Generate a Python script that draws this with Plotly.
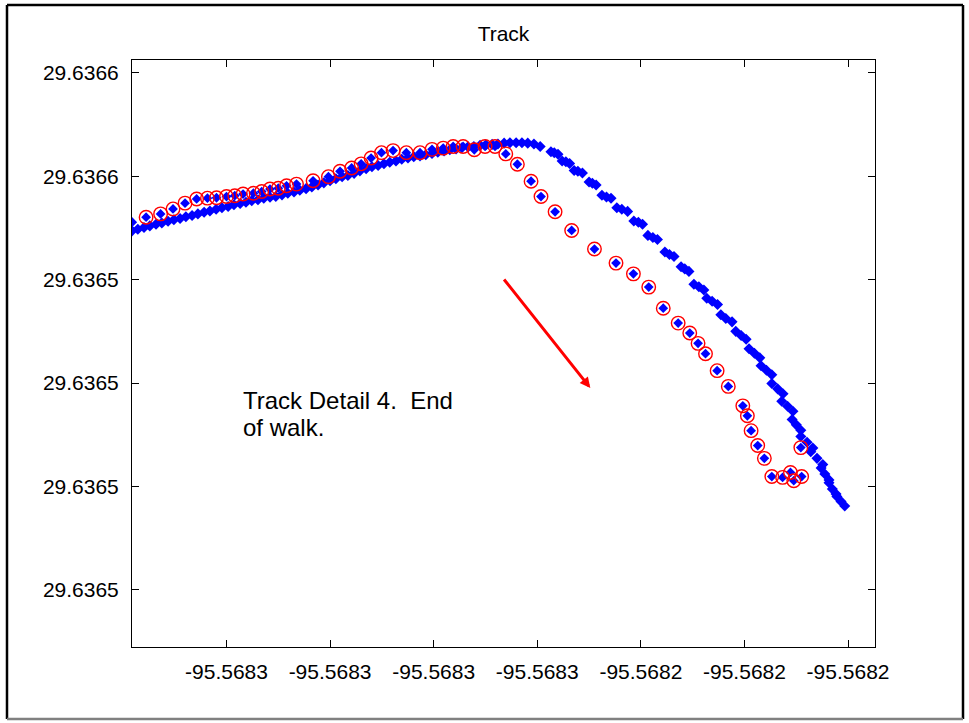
import plotly.graph_objects as go

# ---- GPS fixes (degrees) ----------------------------------------------
# Continuous receiver log
track_lon = [
    -95.5683629, -95.5683628, -95.5683614, -95.5683599, -95.5683585, -95.5683570,
    -95.5683556, -95.5683541, -95.5683527, -95.5683512, -95.5683498, -95.5683483,
    -95.5683469, -95.5683454, -95.5683440, -95.5683425, -95.5683411, -95.5683396,
    -95.5683382, -95.5683367, -95.5683353, -95.5683339, -95.5683324, -95.5683310,
    -95.5683295, -95.5683281, -95.5683266, -95.5683252, -95.5683237, -95.5683223,
    -95.5683208, -95.5683194, -95.5683179, -95.5683165, -95.5683150, -95.5683136,
    -95.5683121, -95.5683107, -95.5683092, -95.5683078, -95.5683063, -95.5683049,
    -95.5683034, -95.5683020, -95.5683006, -95.5682991, -95.5682977, -95.5682962,
    -95.5682948, -95.5682933, -95.5682919, -95.5682904, -95.5682890, -95.5682875,
    -95.5682861, -95.5682846, -95.5682832, -95.5682817, -95.5682803, -95.5682788,
    -95.5682774, -95.5682759, -95.5682745, -95.5682730, -95.5682716, -95.5682701,
    -95.5682687, -95.5682673, -95.5682658, -95.5682643,
    -95.5682617, -95.5682609, -95.5682600, -95.5682590, -95.5682581, -95.5682572,
    -95.5682561, -95.5682552, -95.5682541, -95.5682525, -95.5682517, -95.5682508,
    -95.5682494, -95.5682483, -95.5682472, -95.5682458, -95.5682446, -95.5682432,
    -95.5682417, -95.5682406, -95.5682396, -95.5682383, -95.5682371, -95.5682360,
    -95.5682342, -95.5682331, -95.5682320, -95.5682303, -95.5682294, -95.5682284,
    -95.5682272, -95.5682260, -95.5682248, -95.5682241, -95.5682228, -95.5682215,
    -95.5682207, -95.5682195, -95.5682180, -95.5682171, -95.5682158, -95.5682146,
    -95.5682139, -95.5682126, -95.5682113, -95.5682110, -95.5682097, -95.5682084,
    -95.5682084, -95.5682070, -95.5682057, -95.5682060, -95.5682046, -95.5682033,
    -95.5682035, -95.5682025, -95.5682014, -95.5682014, -95.5681999, -95.5681985,
    -95.5681990, -95.5681975, -95.5681961, -95.5681965, -95.5681956, -95.5681946,
    -95.5681946, -95.5681938, -95.5681929, -95.5681927, -95.5681917, -95.5681908,
]
track_lat = [
    29.6365439, 29.6365418, 29.6365422, 29.6365426, 29.6365430, 29.6365434,
    29.6365437, 29.6365441, 29.6365445, 29.6365448, 29.6365452, 29.6365455,
    29.6365459, 29.6365463, 29.6365466, 29.6365470, 29.6365474, 29.6365477,
    29.6365481, 29.6365484, 29.6365487, 29.6365491, 29.6365493, 29.6365497,
    29.6365499, 29.6365501, 29.6365505, 29.6365509, 29.6365512, 29.6365516,
    29.6365520, 29.6365524, 29.6365529, 29.6365534, 29.6365539, 29.6365544,
    29.6365549, 29.6365552, 29.6365557, 29.6365563, 29.6365568, 29.6365573,
    29.6365576, 29.6365580, 29.6365584, 29.6365587, 29.6365591, 29.6365594,
    29.6365597, 29.6365599, 29.6365602, 29.6365605, 29.6365608, 29.6365611,
    29.6365614, 29.6365616, 29.6365619, 29.6365621, 29.6365622, 29.6365625,
    29.6365626, 29.6365627, 29.6365628, 29.6365630, 29.6365631, 29.6365631,
    29.6365631, 29.6365630, 29.6365628, 29.6365622,
    29.6365609, 29.6365607, 29.6365603, 29.6365587, 29.6365585, 29.6365581,
    29.6365564, 29.6365562, 29.6365558, 29.6365536, 29.6365533, 29.6365529,
    29.6365504, 29.6365500, 29.6365497, 29.6365474, 29.6365470, 29.6365465,
    29.6365442, 29.6365439, 29.6365434, 29.6365407, 29.6365402, 29.6365397,
    29.6365367, 29.6365361, 29.6365356, 29.6365331, 29.6365326, 29.6365320,
    29.6365289, 29.6365283, 29.6365275, 29.6365255, 29.6365248, 29.6365240,
    29.6365215, 29.6365206, 29.6365198, 29.6365175, 29.6365165, 29.6365156,
    29.6365133, 29.6365122, 29.6365111, 29.6365092, 29.6365081, 29.6365070,
    29.6365049, 29.6365036, 29.6365024, 29.6365006, 29.6364994, 29.6364982,
    29.6364962, 29.6364949, 29.6364936, 29.6364921, 29.6364907, 29.6364893,
    29.6364884, 29.6364868, 29.6364853, 29.6364845, 29.6364830, 29.6364816,
    29.6364809, 29.6364794, 29.6364782, 29.6364776, 29.6364764, 29.6364753,
]

# Logged waypoints
waypoint_lon = [
    -95.5683594, -95.5683559, -95.5683529, -95.5683500, -95.5683472, -95.5683446,
    -95.5683424, -95.5683400, -95.5683380, -95.5683360, -95.5683335, -95.5683315,
    -95.5683295, -95.5683275, -95.5683255, -95.5683231, -95.5683191, -95.5683154,
    -95.5683126, -95.5683098, -95.5683075, -95.5683051, -95.5683026, -95.5682998,
    -95.5682966, -95.5682933, -95.5682904, -95.5682877, -95.5682853, -95.5682829,
    -95.5682802, -95.5682776, -95.5682752, -95.5682726, -95.5682698, -95.5682665,
    -95.5682641, -95.5682607, -95.5682567, -95.5682512, -95.5682460, -95.5682418,
    -95.5682381, -95.5682346, -95.5682310, -95.5682282, -95.5682262, -95.5682244,
    -95.5682216, -95.5682189, -95.5682154, -95.5682143, -95.5682134, -95.5682118,
    -95.5682102, -95.5682084, -95.5682058, -95.5682039, -95.5682031, -95.5682012,
    -95.5682014,
]
waypoint_lat = [
    29.6365451, 29.6365459, 29.6365471, 29.6365485, 29.6365495, 29.6365497,
    29.6365498, 29.6365501, 29.6365503, 29.6365507, 29.6365509, 29.6365513,
    29.6365519, 29.6365521, 29.6365527, 29.6365531, 29.6365539, 29.6365549,
    29.6365562, 29.6365570, 29.6365580, 29.6365594, 29.6365607, 29.6365612,
    29.6365607, 29.6365607, 29.6365615, 29.6365618, 29.6365622, 29.6365622,
    29.6365614, 29.6365622, 29.6365622, 29.6365604, 29.6365579, 29.6365538,
    29.6365501, 29.6365464, 29.6365419, 29.6365374, 29.6365340, 29.6365314,
    29.6365282, 29.6365231, 29.6365195, 29.6365171, 29.6365146, 29.6365121,
    29.6365080, 29.6365042, 29.6364995, 29.6364971, 29.6364935, 29.6364899,
    29.6364868, 29.6364824, 29.6364822, 29.6364834, 29.6364814, 29.6364824,
    29.6364894,
]

# Axis ticks and their printed labels
lon_ticks = [-95.56834, -95.568315, -95.56829, -95.568265, -95.56824, -95.568215, -95.56819]
lon_labels = ["-95.5683", "-95.5683", "-95.5683", "-95.5683", "-95.5682", "-95.5682", "-95.5682"]
lat_ticks = [29.63658, 29.636555, 29.63653, 29.636505, 29.63648, 29.636455]
lat_labels = ["29.6366", "29.6366", "29.6365", "29.6365", "29.6365", "29.6365"]

LON_RANGE = [-95.5683628, -95.5681835]
LAT_RANGE = [29.6364412, 29.6365831]

# Direction-of-travel arrow (tail -> head)
ARROW_TAIL = (-95.5682733, 29.6365304)
ARROW_HEAD = (-95.5682522, 29.6365038)

FONT = "Arial, Liberation Sans, Helvetica, sans-serif"
BLUE = "#0000ff"
RED = "#ff0000"

fig = go.Figure()

fig.add_trace(go.Scatter(
    x=track_lon, y=track_lat, mode="markers",
    marker=dict(symbol="diamond", size=8.5, color=BLUE, line=dict(width=0)),
    showlegend=False, hoverinfo="skip",
))
fig.add_trace(go.Scatter(
    x=waypoint_lon, y=waypoint_lat, mode="markers",
    marker=dict(symbol="diamond", size=7.5, color=BLUE, line=dict(width=0)),
    showlegend=False, hoverinfo="skip",
))
fig.add_trace(go.Scatter(
    x=waypoint_lon, y=waypoint_lat, mode="markers",
    marker=dict(symbol="circle-open", size=13.5, color=RED, line=dict(width=1.4, color=RED)),
    showlegend=False, hoverinfo="skip",
))

axis_common = dict(
    showgrid=False, zeroline=False,
    showline=True, linecolor="black", linewidth=1, mirror="ticks",
    ticks="inside", ticklen=7, tickwidth=1, tickcolor="black",
    tickfont=dict(family=FONT, size=21, color="black"),
)

fig.update_xaxes(range=LON_RANGE, tickmode="array", tickvals=lon_ticks,
                 ticktext=lon_labels, ticklabelstandoff=6, **axis_common)
fig.update_yaxes(range=LAT_RANGE, tickmode="array", tickvals=lat_ticks,
                 ticktext=lat_labels, ticklabelstandoff=8, **axis_common)

fig.add_annotation(
    x=ARROW_HEAD[0], y=ARROW_HEAD[1], ax=ARROW_TAIL[0], ay=ARROW_TAIL[1],
    xref="x", yref="y", axref="x", ayref="y", text="",
    showarrow=True, arrowhead=2, arrowsize=0.7, arrowwidth=3, arrowcolor=RED,
)

note_style = dict(xref="paper", yref="paper", showarrow=False, xanchor="left",
                  yanchor="middle", font=dict(family=FONT, size=24, color="black"))
fig.add_annotation(x=0.1467, y=0.4191, text="Track Detail 4.\u00a0 End", **note_style)
fig.add_annotation(x=0.1467, y=0.3731, text="of walk.", **note_style)

# Outer frame around the figure
frame_l, frame_r, frame_t, frame_b = -0.16824, 1.11844, 1.09370, -0.12266
for x0, y0, x1, y1, col in [
    (frame_l, frame_t, frame_r, frame_t, "black"),
    (frame_l, frame_t, frame_l, frame_b, "black"),
    (frame_r, frame_t, frame_r, frame_b, "black"),
    (frame_l, frame_b, frame_r, frame_b, "#808080"),
]:
    fig.add_shape(type="line", xref="paper", yref="paper", x0=x0, y0=y0, x1=x1, y1=y1,
                  line=dict(color=col, width=2.5))

fig.update_layout(
    width=969, height=723,
    margin=dict(l=132, r=94, t=60, b=76),
    paper_bgcolor="white", plot_bgcolor="white",
    title=dict(text="Track", x=0.5, xref="paper", xanchor="center",
               y=1 - 34 / 723, yref="container", yanchor="middle",
               font=dict(family=FONT, size=21, color="black")),
    font=dict(family=FONT, color="black"),
)

fig.write_html("out.html")
